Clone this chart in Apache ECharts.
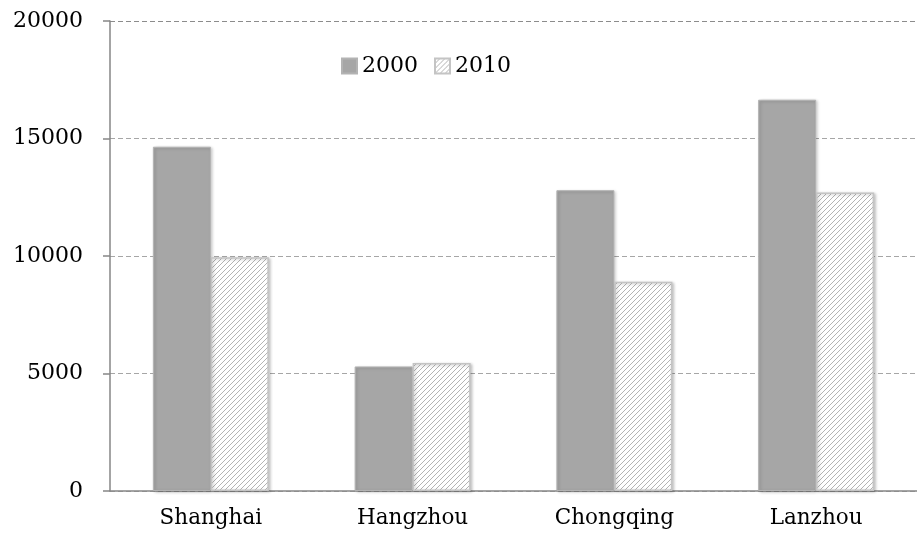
<!DOCTYPE html>
<html>
<head>
<meta charset="utf-8">
<script src="https://cdn.jsdelivr.net/npm/echarts@6/dist/echarts.min.js"></script>
<style>html,body{margin:0;padding:0;background:#fff;}#c{width:917px;height:539px;}</style>
</head>
<body>
<div id="c"></div>
<script>
var categories = ['Shanghai', 'Hangzhou', 'Chongqing', 'Lanzhou'];
var seriesNames = ['2000', '2010'];
var values2000 = [14650, 5300, 12800, 16650];
var values2010 = [9950, 5450, 8900, 12700];
var yTicks = [0, 5000, 10000, 15000, 20000];

function hatch() {
  var p = 5;
  var cv = document.createElement('canvas');
  cv.width = p; cv.height = p;
  var ctx = cv.getContext('2d');
  ctx.fillStyle = '#ffffff';
  ctx.fillRect(0, 0, p, p);
  ctx.strokeStyle = '#b4b4b4';
  ctx.lineWidth = 1;
  ctx.beginPath();
  ctx.moveTo(-1, p + 1); ctx.lineTo(p + 1, -1);
  ctx.moveTo(-1, 1); ctx.lineTo(1, -1);
  ctx.moveTo(p - 1, p + 1); ctx.lineTo(p + 1, p - 1);
  ctx.stroke();
  return cv;
}

var font = 'DejaVu Serif';
var chart = echarts.init(document.getElementById('c'));
chart.setOption({
  animation: false,
  backgroundColor: '#ffffff',
  grid: { left: 110, right: -7, top: 21, bottom: 48, containLabel: false },
  legend: {
    data: seriesNames,
    left: 336, top: 50,
    icon: 'rect',
    itemWidth: 15, itemHeight: 15, itemGap: 16,
    textStyle: { fontFamily: font, fontSize: 22, color: '#000', padding: [0, 0, 0, 0] }
  },
  xAxis: {
    type: 'category',
    data: categories,
    axisLine: { lineStyle: { color: '#868686', width: 1.5 } },
    axisTick: { length: 7, lineStyle: { color: '#868686', width: 1.5 } },
    axisLabel: { fontFamily: font, fontSize: 21.5, color: '#000', margin: 16 }
  },
  yAxis: {
    type: 'value',
    min: yTicks[0], max: yTicks[yTicks.length - 1], interval: 5000,
    axisLine: { show: true, lineStyle: { color: '#868686', width: 1.5 } },
    axisTick: { show: true, length: 7, lineStyle: { color: '#868686', width: 1.5 } },
    axisLabel: { fontFamily: font, fontSize: 22, color: '#000', margin: 27,
      formatter: function (v) { return String(v); } },
    splitLine: { show: true, lineStyle: { type: [5, 3], width: 1.2, color: ['#a6a6a6', '#a6a6a6', '#a6a6a6', '#a6a6a6', '#8c8c8c'] } }
  },
  series: [
    {
      name: seriesNames[0], type: 'bar', data: values2000,
      barWidth: 58, barGap: '0%',
      itemStyle: { color: '#a6a6a6', borderColor: '#b3b3b3', borderWidth: 1,
        shadowBlur: 3, shadowColor: 'rgba(0,0,0,0.22)', shadowOffsetX: 1.5, shadowOffsetY: 1 }
    },
    {
      name: seriesNames[1], type: 'bar', data: values2010,
      barWidth: 58, barGap: '0%',
      itemStyle: { color: { image: hatch(), repeat: 'repeat' }, borderColor: '#c4c4c4', borderWidth: 1.5,
        shadowBlur: 3, shadowColor: 'rgba(0,0,0,0.22)', shadowOffsetX: 1.5, shadowOffsetY: 1 }
    }
  ]
});
</script>
</body>
</html>
